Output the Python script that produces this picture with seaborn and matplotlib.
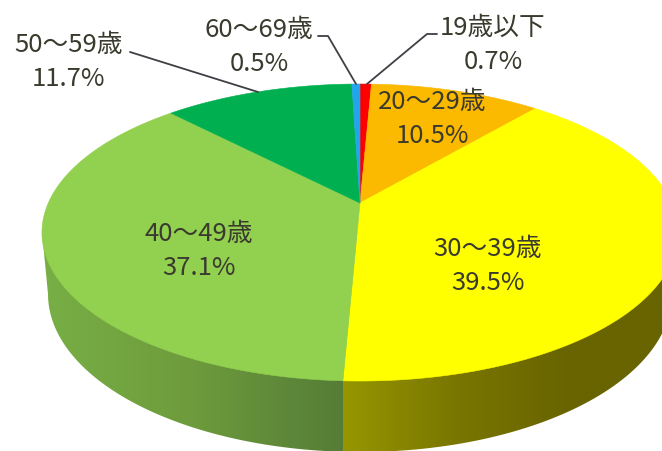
# pie_age.py
import numpy as np
import matplotlib.pyplot as plt
import seaborn as sns
from matplotlib.colors import LinearSegmentedColormap
from matplotlib.patches import Polygon

# Data
AGE_GROUPS = ['19歳以下', '20〜29歳', '30〜39歳', '40〜49歳', '50〜59歳', '60〜69歳']
SHARES = [0.7, 10.5, 39.5, 37.1, 11.7, 0.5]

# Styles
SLICE_COLORS = ['#FF0000', '#FBB900', '#FFFF00', '#92D050', '#00B050', '#22A5EC']
LABEL_POS = [(493, 44), (432, 118), (488, 265), (199, 250), (69, 61), (259, 46)]
LEADERS = [
    [(437, 35), (427, 35), (367, 85)],
    None, None, None,
    [(130, 53), (258, 93)],
    [(318, 37), (328, 37), (356, 85)],
]
TEXT_COLOR = '#3A3A2E'

# Perspective of the top face, fitted in pixel coordinates
CX, APEX_Y, A, C, R = 360.0, 204.0, -102.1, 0.1987, 311.7


def project(theta):
    """Map clockwise angle from 12 o'clock on the unit circle to pixels."""
    u, v = np.sin(theta), np.cos(theta)
    return CX + R * u / (1 + C * v), (A * v + APEX_Y) / (1 + C * v)


sns.set_theme(style='white')
plt.rcParams['font.family'] = ['Noto Sans CJK JP', 'DejaVu Sans']

fig = plt.figure(figsize=(6.62, 4.52), dpi=100)
ax = fig.add_axes([0, 0, 1, 1])
ax.set_axis_off()

palette = sns.color_palette(SLICE_COLORS)
edges = np.radians(np.concatenate([[0], np.cumsum(SHARES)]) * 3.6)

# Side wall, outer shape is a lower ellipse joined to the widest point of the top
t = np.linspace(np.pi, 0, 200)
wall_x = np.concatenate([[42], 360 + 312 * np.cos(t), [678]])
wall_y = np.concatenate([[233], 295 + 158 * np.sin(t), [233]])
split_x = project(edges[3])[0]

wall_green = LinearSegmentedColormap.from_list(
    'wall_green', ['#78AF46', '#6E9B3C', '#557D37'])
wall_yellow = LinearSegmentedColormap.from_list(
    'wall_yellow', ['#969600', '#7A7600', '#686400', '#686400'])
gradient = np.linspace(0, 1, 256).reshape(1, -1)

for cmap, x0, x1 in [(wall_green, 42, split_x), (wall_yellow, split_x, 680)]:
    im = ax.imshow(gradient, cmap=cmap, extent=(x0, x1, 460, 200),
                   aspect='auto', interpolation='bilinear')
    clip = Polygon(np.column_stack([wall_x, wall_y]), transform=ax.transData)
    im.set_clip_path(clip)

# Top face
for start, stop, color in zip(edges[:-1], edges[1:], palette):
    theta = np.linspace(start, stop, 200)
    x, y = project(theta)
    ax.fill(np.r_[CX, x], np.r_[APEX_Y, y], color=color, lw=0.4, zorder=3)

# Leader lines
for points in LEADERS:
    if points is not None:
        xs, ys = zip(*points)
        ax.plot(xs, ys, color='#3F3F46', lw=1.3, zorder=4)

# Labels
for name, share, (x, y) in zip(AGE_GROUPS, SHARES, LABEL_POS):
    ax.text(x, y + 1, f'{name}\n{share}%', ha='center', va='center',
            fontsize=18.5, color=TEXT_COLOR, linespacing=1.42, zorder=5)

ax.set_xlim(0, 662)
ax.set_ylim(452, 0)

fig.savefig('out.png', dpi=100)
